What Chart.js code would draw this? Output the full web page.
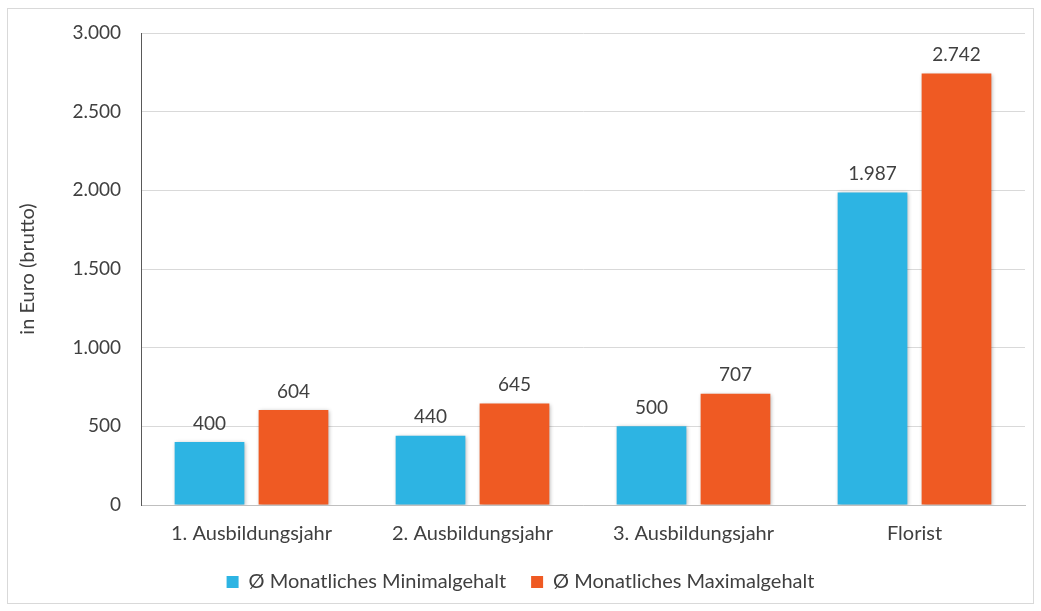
<!DOCTYPE html>
<html>
<head>
<meta charset="utf-8">
<script src="https://cdn.jsdelivr.net/npm/chart.js@4"></script>
<style>
html,body{margin:0;padding:0;background:#fff;}
#wrap{position:absolute;left:0;top:0;width:1041px;height:611px;}
</style>
</head>
<body>
<div id="wrap"><canvas id="c" width="1041" height="611"></canvas></div>
<script>
const categories = ["1. Ausbildungsjahr", "2. Ausbildungsjahr", "3. Ausbildungsjahr", "Florist"];
const minGehalt = [400, 440, 500, 1987];
const maxGehalt = [604, 645, 707, 2742];
const seriesNames = ["Ø Monatliches Minimalgehalt", "Ø Monatliches Maximalgehalt"];
const yTitle = "in Euro (brutto)";

const FONT = "Lato";
function fmt(v){ return String(v).replace(/\B(?=(\d{3})+(?!\d))/g, "."); }

const bgPlugin = {
  id: 'bg',
  beforeDraw(chart){
    const ctx = chart.ctx;
    ctx.save();
    ctx.fillStyle = '#fff';
    ctx.fillRect(0,0,chart.width,chart.height);
    ctx.strokeStyle = '#d9d9d9';
    ctx.lineWidth = 1;
    ctx.strokeRect(7.5, 8.5, 1026, 595);
    ctx.restore();
  }
};
const shadowPlugin = {
  id: 'shadow',
  beforeDatasetsDraw(chart){
    const ctx = chart.ctx;
    ctx.save();
    ctx.shadowColor = 'rgba(0,0,0,0.3)';
    ctx.shadowBlur = 4;
    ctx.shadowOffsetX = 1;
    ctx.shadowOffsetY = 1;
  },
  afterDatasetsDraw(chart){
    chart.ctx.restore();
    const ctx = chart.ctx;
    ctx.save();
    ctx.fillStyle = '#404040';
    ctx.font = '19px ' + FONT;
    ctx.textAlign = 'center';
    ctx.textBaseline = 'bottom';
    chart.data.datasets.forEach((ds, i) => {
      chart.getDatasetMeta(i).data.forEach((el, j) => {
        ctx.fillText(fmt(ds.data[j]), el.x, el.y - 9);
      });
    });
    ctx.restore();
  }
};

new Chart(document.getElementById('c'), {
  type: 'bar',
  data: {
    labels: categories,
    datasets: [
      { label: seriesNames[0], data: minGehalt, backgroundColor: '#2db4e3', categoryPercentage: 0.76, barPercentage: 0.83 },
      { label: seriesNames[1], data: maxGehalt, backgroundColor: '#ef5a23', categoryPercentage: 0.76, barPercentage: 0.83 }
    ]
  },
  options: {
    responsive: false,
    animation: false,
    devicePixelRatio: 1,
    layout: { padding: { left: 16, right: 16, top: 33, bottom: 9 } },
    plugins: {
      tooltip: { enabled: false },
      legend: {
        position: 'bottom',
        labels: {
          color: '#404040',
          font: { family: FONT, size: 20 },
          boxWidth: 12, boxHeight: 12, padding: 25,
          useBorderRadius: false
        }
      }
    },
    scales: {
      x: {
        afterFit(s){ s.height = 42; },
        grid: { display: false, drawTicks: false },
        border: { display: true, color: '#bfbfbf', width: 1 },
        ticks: { color: '#404040', font: { family: FONT, size: 20 }, padding: 17 }
      },
      y: {
        min: 0, max: 3000,
        afterFit(s){ s.width = 125; },
        grid: { color: '#d9d9d9', drawTicks: false },
        border: { display: true, color: '#595959', width: 1 },
        ticks: { stepSize: 500, color: '#404040', font: { family: FONT, size: 19 }, padding: 20,
          callback: v => fmt(v) },
        title: { display: true, text: yTitle, color: '#404040', font: { family: FONT, size: 20 }, padding: 0 }
      }
    }
  },
  plugins: [bgPlugin, shadowPlugin]
});
</script>
</body>
</html>
